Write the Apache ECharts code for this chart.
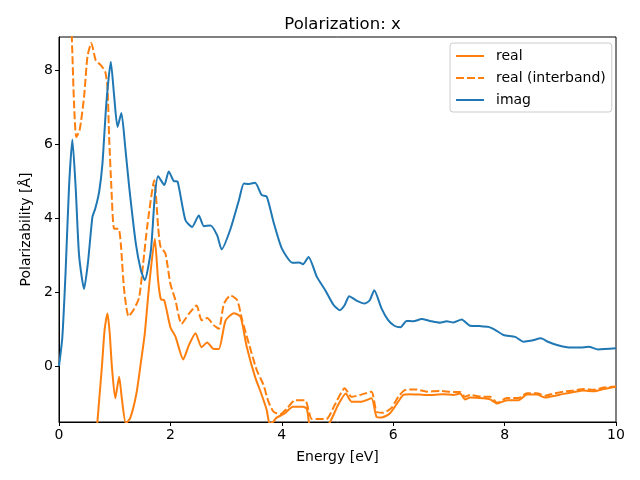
<!DOCTYPE html>
<html>
<head>
<meta charset="utf-8">
<script src="https://cdn.jsdelivr.net/npm/echarts@6/dist/echarts.min.js"></script>
<style>html,body{margin:0;padding:0;background:#fff;}#c{width:640px;height:480px;}</style>
</head>
<body>
<div id="c"></div>
<script>
const titleText = 'Polarization: x';
const xName = 'Energy [eV]';
const yName = 'Polarizability [Å]';
const seriesNames = ['real', 'real (interband)', 'imag'];
const xTicks = [0, 2, 4, 6, 8, 10];
const yTicks = [0, 2, 4, 6, 8];

const realX = [0.2,0.4,0.55,0.65,0.69,0.77,0.82,0.87,0.91,0.95,1.01,1.08,1.13,1.2,1.28,1.39,1.47,1.54,1.62,1.72,1.78,1.83,1.89,2.0,2.09,2.23,2.33,2.45,2.56,2.66,2.78,2.87,2.99,3.14,3.26,3.37,3.52,3.64,3.73,3.78,3.85,3.9,4.05,4.2,4.38,4.45,4.5,4.6,4.75,4.87,5.01,5.15,5.25,5.43,5.61,5.7,5.79,5.94,6.09,6.18,6.3,6.48,6.72,6.9,7.08,7.2,7.29,7.38,7.62,7.74,7.87,8.04,8.25,8.4,8.58,8.73,8.88,9.06,9.24,9.42,9.6,9.78,10.0];
const realY = [-40,-12,-5,-2.5,-1.5,-0.02,1.0,1.42,0.9,-0.02,-0.87,-0.29,-0.9,-1.55,-1.4,-0.74,0.1,0.88,2.2,3.44,2.3,1.8,1.78,1.05,0.8,0.18,0.56,0.89,0.51,0.64,0.46,0.46,1.23,1.43,1.33,0.52,-0.29,-0.78,-1.19,-1.55,-1.5,-1.4,-1.28,-1.1,-1.1,-1.15,-1.6,-1.7,-1.7,-1.5,-1.05,-0.74,-0.96,-0.96,-0.87,-1.37,-1.39,-1.28,-0.96,-0.78,-0.76,-0.77,-0.78,-0.76,-0.78,-0.74,-0.9,-0.85,-0.87,-0.9,-1.01,-0.92,-0.92,-0.77,-0.77,-0.85,-0.81,-0.75,-0.7,-0.66,-0.68,-0.62,-0.56];

const interX = [0.0,0.1,0.2,0.23,0.27,0.31,0.37,0.45,0.51,0.58,0.66,0.75,0.83,0.87,0.9,0.94,0.99,1.07,1.11,1.17,1.25,1.35,1.44,1.51,1.59,1.71,1.78,1.82,1.91,2.0,2.09,2.2,2.33,2.47,2.56,2.66,2.78,2.87,2.96,3.08,3.2,3.29,3.41,3.55,3.67,3.76,3.85,3.97,4.09,4.24,4.42,4.48,4.54,4.8,4.95,5.13,5.25,5.43,5.61,5.7,5.82,5.97,6.09,6.21,6.42,6.6,6.84,7.08,7.2,7.29,7.38,7.62,7.74,7.87,8.04,8.25,8.4,8.58,8.73,8.88,9.06,9.24,9.42,9.6,9.78,10.0];
const interY = [14,12,10,8.9,7.09,6.19,6.37,7.27,8.35,8.73,8.26,8.13,7.95,7.54,6.19,4.84,3.71,3.71,3.3,2.05,1.34,1.55,1.86,2.76,3.85,5.02,3.76,3.24,3.04,2.22,1.78,1.14,1.41,1.64,1.24,1.3,1.1,1.01,1.68,1.91,1.78,1.24,0.6,-0.11,-0.5,-0.96,-1.23,-1.3,-1.15,-0.92,-0.92,-1.19,-1.43,-1.43,-1.05,-0.6,-0.83,-0.77,-0.69,-1.23,-1.26,-1.13,-0.83,-0.65,-0.63,-0.69,-0.67,-0.7,-0.7,-0.83,-0.78,-0.83,-0.83,-0.99,-0.86,-0.86,-0.73,-0.73,-0.8,-0.74,-0.69,-0.66,-0.62,-0.64,-0.58,-0.55];

const imagX = [0,0.06,0.12,0.18,0.24,0.3,0.36,0.45,0.52,0.6,0.65,0.72,0.78,0.85,0.93,0.99,1.05,1.12,1.19,1.26,1.38,1.47,1.54,1.65,1.72,1.78,1.89,1.97,2.06,2.13,2.27,2.39,2.51,2.6,2.72,2.84,2.92,3.08,3.23,3.32,3.41,3.52,3.64,3.73,3.85,4.0,4.19,4.31,4.38,4.48,4.63,4.78,4.93,5.04,5.13,5.21,5.34,5.49,5.58,5.66,5.79,5.91,6.02,6.13,6.24,6.36,6.51,6.66,6.84,6.96,7.08,7.23,7.38,7.56,7.71,7.83,7.98,8.19,8.34,8.49,8.65,8.79,8.94,9.12,9.36,9.51,9.68,10.0];
const imagY = [0,0.78,2.6,4.84,6.12,4.8,3.0,2.08,2.8,4.03,4.25,4.7,5.47,7.1,8.22,7.3,6.46,6.84,5.9,4.84,3.3,2.59,2.32,3.13,4.6,5.13,4.89,5.26,5.0,4.98,3.94,3.76,4.07,3.78,3.8,3.53,3.15,3.71,4.48,4.93,4.92,4.95,4.62,4.58,3.9,3.18,2.79,2.8,2.75,2.95,2.41,2.05,1.65,1.51,1.65,1.89,1.77,1.69,1.78,2.05,1.56,1.24,1.09,1.05,1.22,1.21,1.27,1.22,1.17,1.21,1.18,1.26,1.09,1.08,1.06,0.98,0.84,0.79,0.66,0.69,0.75,0.65,0.57,0.51,0.5,0.52,0.45,0.48];

function zip(xs, ys) { return xs.map((x, i) => [x, ys[i]]); }

const FONT = 'DejaVu Sans';
const chart = echarts.init(document.getElementById('c'), null, {renderer: 'canvas'});
chart.setOption({
  animation: false,
  backgroundColor: '#fff',
  title: {
    text: titleText,
    left: 337.5, top: 11, textAlign: 'center',
    textStyle: {fontFamily: FONT, fontSize: 16.5, fontWeight: 'normal', color: '#000'}
  },
  legend: {
    orient: 'vertical', left: 450, top: 43,
    data: seriesNames,
    backgroundColor: '#fff', borderColor: '#cccccc', borderWidth: 1, borderRadius: 3,
    padding: [6, 6, 5, 5], itemGap: 8, itemWidth: 28, itemHeight: 14,
    itemStyle: {opacity: 0, borderWidth: 0},
    textStyle: {fontFamily: FONT, fontSize: 14, color: '#000', padding: [0, 0, 0, 7]}
  },
  grid: {left: 59, right: 24, top: 37, bottom: 58, show: true, borderColor: '#000', borderWidth: 1, backgroundColor: 'transparent'},
  xAxis: {
    type: 'value', min: 0, max: 10, interval: 2,
    name: xName, nameLocation: 'middle', nameGap: 28,
    nameTextStyle: {fontFamily: FONT, fontSize: 14, color: '#000'},
    axisLine: {show: true, onZero: false, lineStyle: {color: '#000', width: 1}},
    axisTick: {show: true, inside: false, length: 4, lineStyle: {color: '#000'}, customValues: xTicks},
    axisLabel: {fontFamily: FONT, fontSize: 14, color: '#000', margin: 6, customValues: xTicks},
    splitLine: {show: false}
  },
  yAxis: {
    type: 'value', min: -1.51, max: 8.89,
    name: yName, nameLocation: 'middle', nameGap: 26, nameRotate: 90,
    nameTextStyle: {fontFamily: FONT, fontSize: 14, color: '#000'},
    axisLine: {show: true, onZero: false, lineStyle: {color: '#000', width: 1}},
    axisTick: {show: true, inside: false, length: 4, lineStyle: {color: '#000'}, customValues: yTicks},
    axisLabel: {fontFamily: FONT, fontSize: 14, color: '#000', margin: 6, customValues: yTicks},
    splitLine: {show: false}
  },
  series: [
    {name: seriesNames[0], type: 'line', data: zip(realX, realY), symbol: 'none', smooth: 0.2, clip: true,
     lineStyle: {color: '#ff7f0e', width: 2}, itemStyle: {color: '#ff7f0e'}},
    {name: seriesNames[1], type: 'line', data: zip(interX, interY), symbol: 'none', smooth: 0.2, clip: true,
     lineStyle: {color: '#ff7f0e', width: 2, type: [8, 3]}, itemStyle: {color: '#ff7f0e'}},
    {name: seriesNames[2], type: 'line', data: zip(imagX, imagY), symbol: 'none', smooth: 0.2, clip: true,
     lineStyle: {color: '#1f77b4', width: 2}, itemStyle: {color: '#1f77b4'}}
  ]
});
</script>
</body>
</html>
